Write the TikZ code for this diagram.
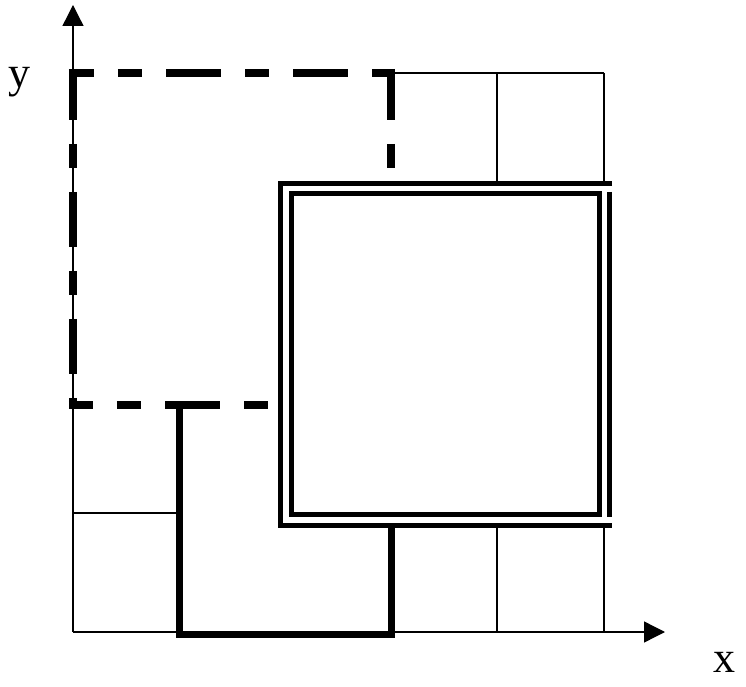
\documentclass[tikz,border=0pt]{standalone}
\usepackage{fontspec}
\setmainfont{Liberation Serif}
\usetikzlibrary{arrows.meta}
\begin{document}
\begin{tikzpicture}[x=0.75pt, y=0.75pt,
   thin grid/.style={line width=0.8pt},
   axis/.style={line width=1pt, -{Triangle[length=15.75pt,width=15.75pt]}},
   wall/.style={line width=6pt, dash pattern={on 41.25pt off 18pt on 18pt off 18pt}},
   route/.style={line width=5.25pt, line join=miter},
   frame/.style={line width=3.75pt},
   lbl/.style={font=\fontsize{33}{40}\selectfont, inner sep=0pt, anchor=base}]
   \useasboundingbox (-73,-54) rectangle (673,632);
   % axes
   \coordinate (O) at (0,0);
   \coordinate (xend) at (592,0);
   \coordinate (yend) at (0,627);
   \draw[axis] (O) -- (xend);
   \draw[axis] (O) -- (yend);
   \node[lbl] (xlabel) at (651,-40) {x};
   \node[lbl] (ylabel) at (-53,544) {y};
   % thin cells
   \draw[thin grid] (318,559) -- (531,559);
   \draw[thin grid] (424,559) -- (424,449);
   \draw[thin grid] (531,559) -- (531,449);
   \draw[thin grid] (0,119) -- (106,119);
   \draw[thin grid] (424,108) -- (424,0);
   \draw[thin grid] (531,108) -- (531,0);
   % dashed square
   \draw[wall, dash phase=22.5pt] (-4,559) -- (322,559);
   \draw[wall, dash phase=3pt] (0,563) -- (0,223);
   \draw[wall, dash phase=3pt] (318,563) -- (318,449);
   \draw[wall, dash phase=23.25pt] (-4,227) -- (207,227);
   % solid path
   \draw[route] (106,227) -- (106,-2) -- (318,-2) -- (318,108);
   % double square
   \draw[frame] (539,448.5) -- (207.5,448.5) -- (207.5,107) -- (539,107);
   \draw[frame] (536.5,440) -- (536.5,115);
   \draw[frame] (218,118) rectangle (526,438);
\end{tikzpicture}
\end{document}
